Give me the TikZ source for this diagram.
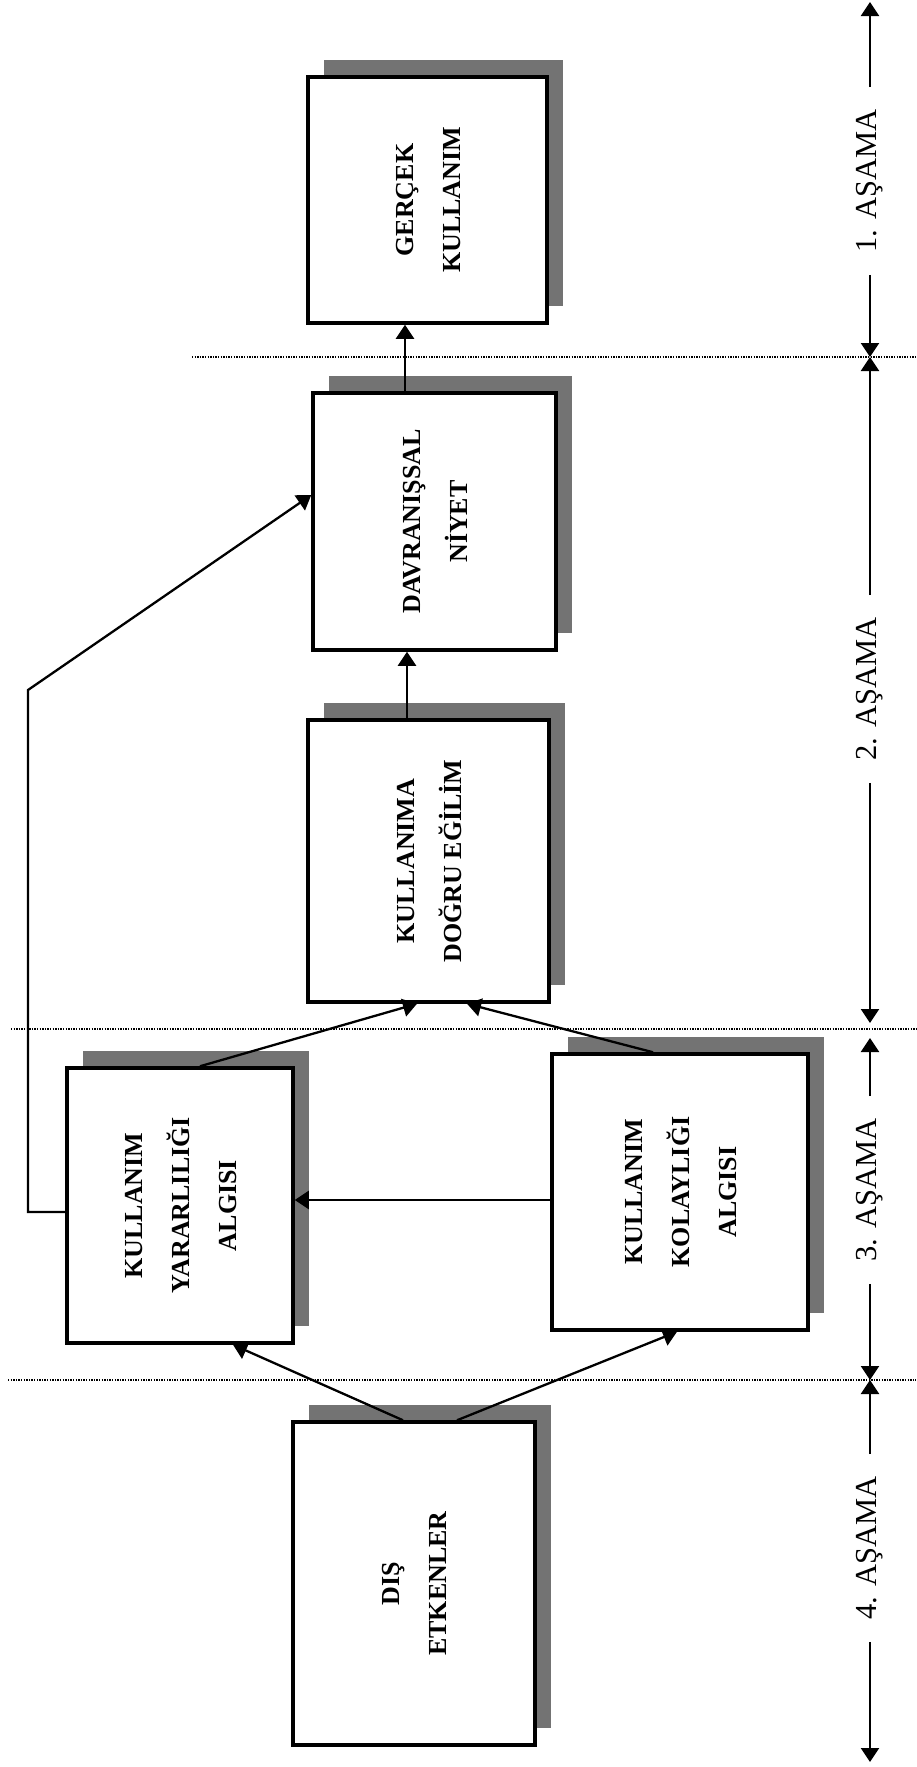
\documentclass[tikz,border=0pt]{standalone}
\usepackage{fontspec}
\setmainfont{Liberation Serif}
\usepackage{graphicx}
\usepackage{tikz}
\usetikzlibrary{shapes,arrows.meta,shadows}

\newcommand{\dikey}[1]{\rotatebox{90}{\begin{tabular}{@{}c@{}}#1\end{tabular}}}

\begin{document}
\begin{tikzpicture}[x=1pt, y=-1pt,
    kutu/.style={rectangle, draw, line width=3.5pt, fill=white, inner sep=0pt, font=\fontsize{26}{47}\selectfont\bfseries, drop shadow={shadow xshift=16pt, shadow yshift=17pt, fill=black!55, opacity=1}},
    asama/.style={rotate=90, inner xsep=22pt, inner ysep=0pt, font=\fontsize{30.5}{36}\selectfont},
    ok/.style={->, >={Triangle[width=18pt,length=14pt]}, line width=2.3pt},
    ayrac/.style={line width=1.3pt, dash pattern=on 1.3pt off 1.3pt}]

    \useasboundingbox (0,0) rectangle (916,1767);

    % Stage separators
    \draw[ayrac] (192,357) -- (916,357);
    \draw[ayrac] (11,1029) -- (916,1029);
    \draw[ayrac] (8,1380) -- (916,1380);

    % Boxes
    \node[kutu, minimum width=239pt, minimum height=246pt] (gercek) at (427.5,200) {\dikey{GERÇEK\\KULLANIM}};
    \node[kutu, minimum width=243pt, minimum height=257pt] (niyet) at (434.5,521.5) {\dikey{DAVRANIŞSAL\\NİYET}};
    \node[kutu, minimum width=241pt, minimum height=282pt] (egilim) at (428.5,861) {\dikey{KULLANIMA\\DOĞRU EĞİLİM}};
    \node[kutu, minimum width=226pt, minimum height=275pt] (yarar) at (180,1205.5) {\dikey{KULLANIM\\YARARLILIĞI\\ALGISI}};
    \node[kutu, minimum width=256pt, minimum height=276pt] (kolay) at (680,1192) {\dikey{KULLANIM\\KOLAYLIĞI\\ALGISI}};
    \node[kutu, minimum width=242pt, minimum height=323pt] (dis) at (414,1583.5) {\dikey{DIŞ\\ETKENLER}};

    % Connections
    \draw[ok] ([xshift=-29.5pt]niyet.north) -- ([xshift=-29.5pt]niyet.north |- gercek.south);
    \draw[ok] ([xshift=-21.5pt]egilim.north) -- ([xshift=-21.5pt]egilim.north |- niyet.south);
    \draw[ok] ([xshift=20pt]yarar.north) -- ([xshift=-11.5pt]egilim.south);
    \draw[ok] ([xshift=-27pt]kolay.north) -- ([xshift=38.5pt]egilim.south);
    \draw[ok] ([yshift=-8pt]kolay.west) -- ([yshift=-8pt]kolay.west -| yarar.east);
    \draw[ok] ([xshift=-11pt]dis.north) -- ([xshift=53pt]yarar.south);
    \draw[ok] ([xshift=43pt]dis.north) -- ([xshift=-3pt]kolay.south);

    % Loop from perceived usefulness to intention
    \coordinate (kose) at (28,690);
    \draw[ok] ([yshift=-6.5pt]yarar.west) -| (kose) -- ([yshift=26.5pt]niyet.west);

    % Stage axis
    \coordinate (ust) at (870,2);
    \coordinate (s1) at (870,357);
    \coordinate (s2a) at (870,1023);
    \coordinate (s2b) at (870,1038);
    \coordinate (s3) at (870,1380);
    \coordinate (alt) at (870,1762);

    \node[asama] (as1) at (870,181) {1. AŞAMA};
    \node[asama] (as2) at (870,689) {2. AŞAMA};
    \node[asama] (as3) at (870,1190) {3. AŞAMA};
    \node[asama] (as4) at (870,1548) {4. AŞAMA};

    \draw[ok] (as1.east) -- (ust);
    \draw[ok] (as1.west) -- (s1);
    \draw[ok] (as2.east) -- (s1);
    \draw[ok] (as2.west) -- (s2a);
    \draw[ok] (as3.east) -- (s2b);
    \draw[ok] (as3.west) -- (s3);
    \draw[ok] (as4.east) -- (s3);
    \draw[ok] (as4.west) -- (alt);
\end{tikzpicture}
\end{document}
